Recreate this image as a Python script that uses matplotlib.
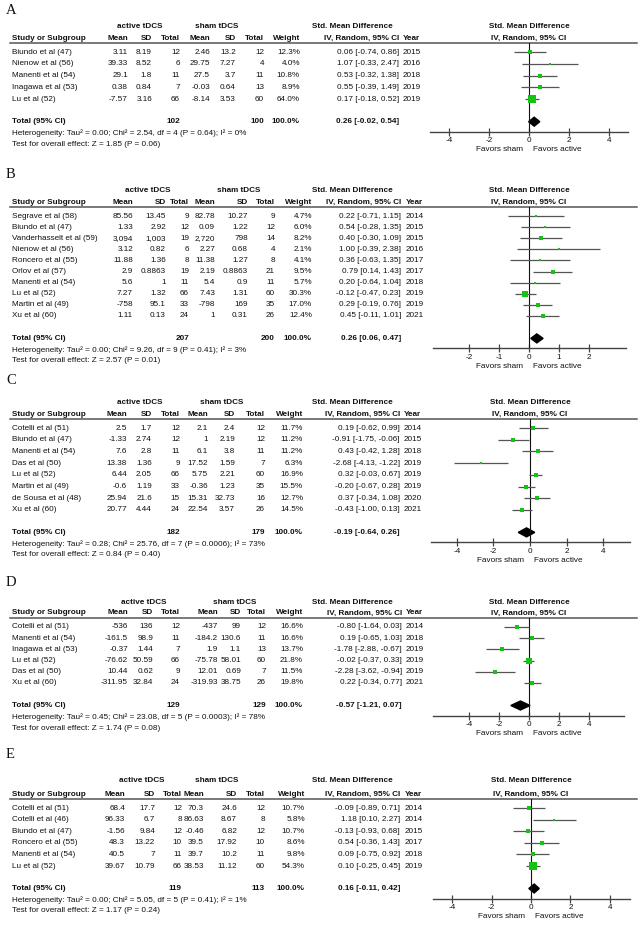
import matplotlib
matplotlib.use("Agg")
import matplotlib.pyplot as plt
from matplotlib.patches import Polygon

W, H = 641, 925
plt.rcParams["font.family"] = ["Liberation Sans", "DejaVu Sans"]
FS = 5.9
GREEN = "#13c413"

# ---------------- data ----------------
# panel A
a_study = ["Biundo et al (47)", "Nienow et al (56)", "Manenti et al (54)", "Inagawa et al (53)", "Lu et al (52)"]
a_act_mean = [3.11, 39.33, 29.1, 0.38, -7.57]
a_act_sd = [8.19, 8.52, 1.8, 0.84, 3.16]
a_act_n = [12, 6, 11, 7, 66]
a_sham_mean = [2.46, 29.75, 27.5, -0.03, -8.14]
a_sham_sd = [13.2, 7.27, 3.7, 0.64, 3.53]
a_sham_n = [12, 4, 11, 13, 60]
a_weight = [12.3, 4.0, 10.8, 8.9, 64.0]
a_smd = [0.06, 1.07, 0.53, 0.55, 0.17]
a_lo = [-0.74, -0.33, -0.32, -0.39, -0.18]
a_hi = [0.86, 2.47, 1.38, 1.49, 0.52]
a_year = [2015, 2016, 2018, 2019, 2019]
a_pooled = [0.26, -0.02, 0.54]
a_het = [0.00, 2.54, 4, "0.64", 0]
a_test = [1.85, "0.06"]
a_ticks = [-4, -2, 0, 2, 4]

# panel B
b_study = ["Segrave et al (58)", "Biundo et al (47)", "Vanderhasselt et al (59)", "Nienow et al (56)",
           "Roncero et al (55)", "Orlov et al (57)", "Manenti et al (54)", "Lu et al (52)",
           "Martin et al (49)", "Xu et al (60)"]
b_act_mean = [85.56, 1.33, 3094, 3.12, 11.88, 2.9, 5.6, 7.27, -758, 1.11]
b_act_sd = [13.45, 2.92, 1003, 0.82, 1.36, 0.8863, 1, 1.32, 95.1, 0.13]
b_act_n = [9, 12, 19, 6, 8, 19, 11, 66, 33, 24]
b_sham_mean = [82.78, 0.09, 2720, 2.27, 11.38, 2.19, 5.4, 7.43, -798, 1]
b_sham_sd = [10.27, 1.22, 798, 0.68, 1.27, 0.8863, 0.9, 1.31, 169, 0.31]
b_sham_n = [9, 12, 14, 4, 8, 21, 11, 60, 35, 26]
b_weight = [4.7, 6.0, 8.2, 2.1, 4.1, 9.5, 5.7, 30.3, 17.0, 12.4]
b_smd = [0.22, 0.54, 0.40, 1.00, 0.36, 0.79, 0.20, -0.12, 0.29, 0.45]
b_lo = [-0.71, -0.28, -0.30, -0.39, -0.63, 0.14, -0.64, -0.47, -0.19, -0.11]
b_hi = [1.15, 1.35, 1.09, 2.38, 1.35, 1.43, 1.04, 0.23, 0.76, 1.01]
b_year = [2014, 2015, 2015, 2016, 2017, 2017, 2018, 2019, 2019, 2021]
b_pooled = [0.26, 0.06, 0.47]
b_het = [0.00, 9.26, 9, "0.41", 3]
b_test = [2.57, "0.01"]
b_ticks = [-2, -1, 0, 1, 2]

# panel C
c_study = ["Cotelli et al (51)", "Biundo et al (47)", "Manenti et al (54)", "Das et al (50)",
           "Lu et al (52)", "Martin et al (49)", "de Sousa et al (48)", "Xu et al (60)"]
c_act_mean = [2.5, -1.33, 7.6, 13.38, 6.44, -0.6, 25.94, 20.77]
c_act_sd = [1.7, 2.74, 2.8, 1.36, 2.05, 1.19, 21.6, 4.44]
c_act_n = [12, 12, 11, 9, 66, 33, 15, 24]
c_sham_mean = [2.1, 1, 6.1, 17.52, 5.75, -0.36, 15.31, 22.54]
c_sham_sd = [2.4, 2.19, 3.8, 1.59, 2.21, 1.23, 32.73, 3.57]
c_sham_n = [12, 12, 11, 7, 60, 35, 16, 26]
c_weight = [11.7, 11.2, 11.2, 6.3, 16.9, 15.5, 12.7, 14.5]
c_smd = [0.19, -0.91, 0.43, -2.68, 0.32, -0.20, 0.37, -0.43]
c_lo = [-0.62, -1.75, -0.42, -4.13, -0.03, -0.67, -0.34, -1.00]
c_hi = [0.99, -0.06, 1.28, -1.22, 0.67, 0.28, 1.08, 0.13]
c_year = [2014, 2015, 2018, 2019, 2019, 2019, 2020, 2021]
c_pooled = [-0.19, -0.64, 0.26]
c_het = [0.28, 25.76, 7, "0.0006", 73]
c_test = [0.84, "0.40"]
c_ticks = [-4, -2, 0, 2, 4]

# panel D
d_study = ["Cotelli et al (51)", "Manenti et al (54)", "Inagawa et al (53)", "Lu et al (52)",
           "Das et al (50)", "Xu et al (60)"]
d_act_mean = [-536, -161.5, -0.37, -76.62, 10.44, -311.95]
d_act_sd = [136, 98.9, 1.44, 50.59, 0.62, 32.84]
d_act_n = [12, 11, 7, 66, 9, 24]
d_sham_mean = [-437, -184.2, 1.9, -75.78, 12.01, -319.93]
d_sham_sd = [99, 130.6, 1.1, 58.01, 0.69, 38.75]
d_sham_n = [12, 11, 13, 60, 7, 26]
d_weight = [16.6, 16.6, 13.7, 21.8, 11.5, 19.8]
d_smd = [-0.80, 0.19, -1.78, -0.02, -2.28, 0.22]
d_lo = [-1.64, -0.65, -2.88, -0.37, -3.62, -0.34]
d_hi = [0.03, 1.03, -0.67, 0.33, -0.94, 0.77]
d_year = [2014, 2018, 2019, 2019, 2019, 2021]
d_pooled = [-0.57, -1.21, 0.07]
d_het = [0.45, 23.08, 5, "0.0003", 78]
d_test = [1.74, "0.08"]
d_ticks = [-4, -2, 0, 2, 4]

# panel E
e_study = ["Cotelli et al (51)", "Cotelli et al (46)", "Biundo et al (47)", "Roncero et al (55)",
           "Manenti et al (54)", "Lu et al (52)"]
e_act_mean = [68.4, 96.33, -1.56, 48.3, 40.5, 39.67]
e_act_sd = [17.7, 6.7, 9.84, 13.22, 7, 10.79]
e_act_n = [12, 8, 12, 10, 11, 66]
e_sham_mean = [70.3, 86.63, -0.46, 39.5, 39.7, 38.53]
e_sham_sd = [24.6, 8.67, 6.82, 17.92, 10.2, 11.12]
e_sham_n = [12, 8, 12, 10, 11, 60]
e_weight = [10.7, 5.8, 10.7, 8.6, 9.8, 54.3]
e_smd = [-0.09, 1.18, -0.13, 0.54, 0.09, 0.10]
e_lo = [-0.89, 0.10, -0.93, -0.36, -0.75, -0.25]
e_hi = [0.71, 2.27, 0.68, 1.43, 0.92, 0.45]
e_year = [2014, 2014, 2015, 2017, 2018, 2019]
e_pooled = [0.16, -0.11, 0.42]
e_het = [0.00, 5.05, 5, "0.41", 1]
e_test = [1.17, "0.24"]
e_ticks = [-4, -2, 0, 2, 4]

PANELS = [
    ("A", a_study, a_act_mean, a_act_sd, a_act_n, a_sham_mean, a_sham_sd, a_sham_n, a_weight,
     a_smd, a_lo, a_hi, a_year, a_pooled, a_het, a_test, a_ticks),
    ("B", b_study, b_act_mean, b_act_sd, b_act_n, b_sham_mean, b_sham_sd, b_sham_n, b_weight,
     b_smd, b_lo, b_hi, b_year, b_pooled, b_het, b_test, b_ticks),
    ("C", c_study, c_act_mean, c_act_sd, c_act_n, c_sham_mean, c_sham_sd, c_sham_n, c_weight,
     c_smd, c_lo, c_hi, c_year, c_pooled, c_het, c_test, c_ticks),
    ("D", d_study, d_act_mean, d_act_sd, d_act_n, d_sham_mean, d_sham_sd, d_sham_n, d_weight,
     d_smd, d_lo, d_hi, d_year, d_pooled, d_het, d_test, d_ticks),
    ("E", e_study, e_act_mean, e_act_sd, e_act_n, e_sham_mean, e_sham_sd, e_sham_n, e_weight,
     e_smd, e_lo, e_hi, e_year, e_pooled, e_het, e_test, e_ticks),
]

# ---------------- layout (pixels) ----------------
LAYOUT = {
    "A": dict(letter=10, line=43, dy=11.8, h1=17, cols=[128, 152, 180, 210, 236, 264, 300],
              grp=[140, 217], ci=399, yr=403, x0=529, ppu=20.0, ax=[430, 628]),
    "B": dict(letter=175, line=207, dy=11.1, h1=16, cols=[133, 166, 189, 215, 248, 275, 312],
              grp=[148, 239], ci=401, yr=406, x0=529, ppu=30.0, ax=[433, 626]),
    "C": dict(letter=380, line=419, dy=11.7, h1=16, cols=[127, 152, 180, 208, 235, 265, 303],
              grp=[140, 222], ci=400, yr=404, x0=530, ppu=18.3, ax=[431, 630]),
    "D": dict(letter=582, line=618, dy=11.2, h1=16, cols=[128, 153, 180, 218, 241, 266, 303],
              grp=[144, 235], ci=402, yr=406, x0=529, ppu=15.0, ax=[433, 624]),
    "E": dict(letter=755, line=799, dy=11.6, h1=18, cols=[125, 155, 182, 204, 237, 265, 305],
              grp=[142, 217], ci=400, yr=405, x0=531, ppu=19.7, ax=[433, 630]),
}


def num(v):
    return f"{v:,g}"


fig = plt.figure(figsize=(W / 100, H / 100), dpi=100)
bg = fig.add_axes([0, 0, 1, 1])
bg.set_xlim(0, W)
bg.set_ylim(H, 0)
bg.axis("off")


def txt(x, y, s, ha="left", bold=False, **kw):
    bg.text(x, y, s, ha=ha, va="center", fontsize=FS, fontweight="bold" if bold else "normal",
            color="#111111", **kw)


for (name, study, am, asd, an, sm, ssd, sn, wt, smd, lo, hi, yr, pooled, het, test, ticks) in PANELS:
    L = LAYOUT[name]
    line = L["line"]
    c = L["cols"]
    rows = [line + 9 + i * L["dy"] for i in range(len(study))]
    total_y = rows[-1] + 22.5
    axis_y = total_y + 10

    bg.text(6, L["letter"], name, ha="left", va="center", fontsize=10.5,
            family="Liberation Serif", color="#111111")

    # headers
    h1 = line - L["h1"]
    h2 = line - 5
    txt(L["grp"][0], h1, "active tDCS", ha="center", bold=True)
    txt(L["grp"][1], h1, "sham tDCS", ha="center", bold=True)
    txt(352, h1, "Std. Mean Difference", ha="center", bold=True)
    txt(L["x0"], h1, "Std. Mean Difference", ha="center", bold=True)
    txt(12, h2, "Study or Subgroup", bold=True)
    for x, s in zip(c, ["Mean", "SD", "Total", "Mean", "SD", "Total", "Weight"]):
        txt(x, h2, s, ha="right", bold=True)
    txt(L["ci"], h2, "IV, Random, 95% CI", ha="right", bold=True)
    txt(L["yr"], h2, "Year", bold=True)
    txt(L["x0"], h2, "IV, Random, 95% CI", ha="center", bold=True)
    bg.plot([10, 637], [line, line], color="#555555", lw=1.1)

    # study rows
    for i, y in enumerate(rows):
        txt(12, y, study[i])
        vals = [num(am[i]), num(asd[i]), str(an[i]), num(sm[i]), num(ssd[i]), str(sn[i]),
                f"{wt[i]:.1f}%"]
        for x, s in zip(c, vals):
            txt(x, y, s, ha="right")
        txt(L["ci"], y, f"{smd[i]:.2f} [{lo[i]:.2f}, {hi[i]:.2f}]", ha="right")
        txt(L["yr"], y, str(yr[i]))

    # total rows
    txt(12, total_y, "Total (95% CI)", bold=True)
    txt(c[2], total_y, str(sum(an)), ha="right", bold=True)
    txt(c[5], total_y, str(sum(sn)), ha="right", bold=True)
    txt(c[6], total_y, "100.0%", ha="right", bold=True)
    txt(L["ci"], total_y, f"{pooled[0]:.2f} [{pooled[1]:.2f}, {pooled[2]:.2f}]", ha="right", bold=True)
    txt(12, total_y + 11.5,
        f"Heterogeneity: Tau\u00b2 = {het[0]:.2f}; Chi\u00b2 = {het[1]:.2f}, df = {het[2]} "
        f"(P = {het[3]}); I\u00b2 = {het[4]}%")
    txt(12, total_y + 22.5, f"Test for overall effect: Z = {test[0]:.2f} (P = {test[1]})")

    # forest axes
    axl, axr = L["ax"]
    ax = fig.add_axes([axl / W, 1 - axis_y / H, (axr - axl) / W, (axis_y - line) / H])
    ax.patch.set_alpha(0)
    ax.set_xlim((axl - L["x0"]) / L["ppu"], (axr - L["x0"]) / L["ppu"])
    ax.set_ylim(axis_y, line)
    for s in ("top", "left", "right"):
        ax.spines[s].set_visible(False)
    ax.spines["bottom"].set_color("#444444")
    ax.spines["bottom"].set_linewidth(1.0)
    ax.set_yticks([])
    ax.set_xticks(ticks)
    ax.set_xticklabels([str(t) for t in ticks])
    ax.tick_params(axis="x", direction="inout", length=6, width=0.9, color="#444444",
                   labelsize=FS, pad=1.0, labelcolor="#111111")
    ax.axvline(0, color="#111111", lw=0.8)
    ax.hlines(rows, lo, hi, color="#555555", lw=0.9)
    for i, y in enumerate(rows):
        side = max(2.0, 1.1 * wt[i] ** 0.5) * 0.72
        ax.plot(smd[i], y, "s", ms=side, color=GREEN, mec=GREEN, mew=0)
    dh = 4.5
    ax.add_patch(Polygon([(pooled[1], total_y), (pooled[0], total_y - dh), (pooled[2], total_y),
                          (pooled[0], total_y + dh)], closed=True, color="black"))
    txt(L["x0"] - 6, axis_y + 18, "Favors sham", ha="right")
    txt(L["x0"] + 4, axis_y + 18, "Favors active")

fig.savefig("out.png", dpi=100)
